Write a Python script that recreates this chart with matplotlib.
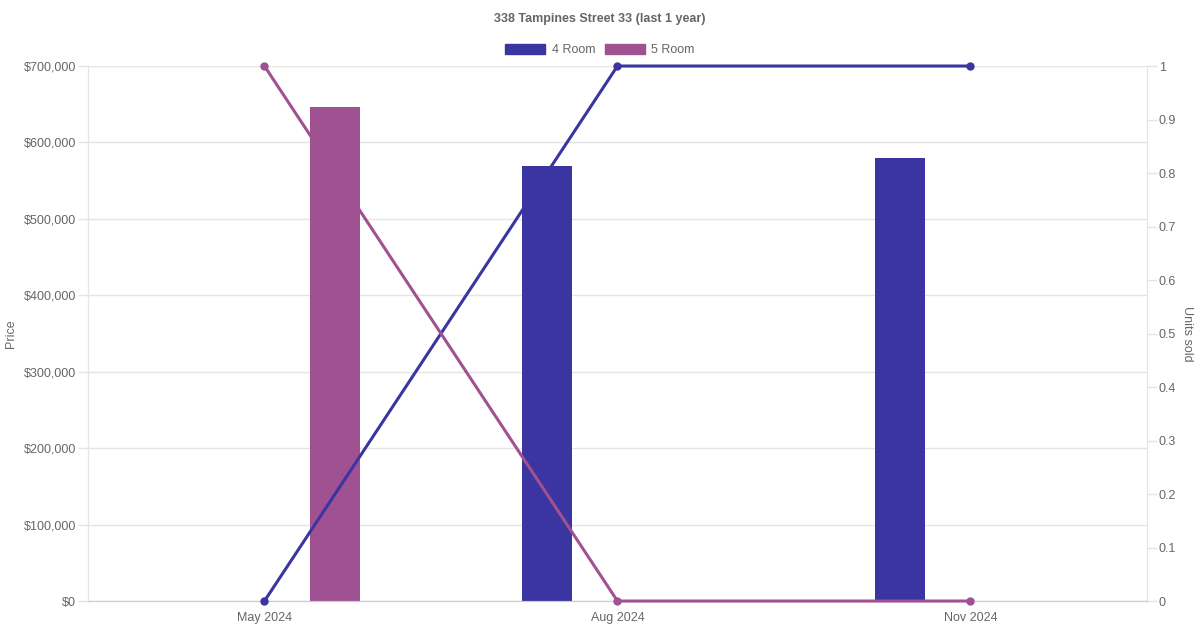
import matplotlib.pyplot as plt
from matplotlib.patches import Patch
from matplotlib.ticker import FuncFormatter

plt.rcParams['font.family'] = ['Liberation Sans', 'DejaVu Sans']

months = ['May 2024', 'Aug 2024', 'Nov 2024']
price_4room = [None, 569000, 580000]
price_5room = [647000, None, None]
units_4room = [0, 1, 1]
units_5room = [1, 0, 0]

c4 = '#3a35a0'
c5 = '#a05192'
grey = '#666666'
grid = '#e5e5e5'

fig = plt.figure(figsize=(12, 6.3), dpi=100)
ax = fig.add_axes([0.0733, 0.046, 0.8825, 0.8492])
ax2 = ax.twinx()

x = list(range(len(months)))
bw = 0.1416
for i, v in enumerate(price_4room):
    if v is not None:
        ax.bar(i - 0.2, v, width=bw, color=c4, zorder=2)
for i, v in enumerate(price_5room):
    if v is not None:
        ax.bar(i + 0.2, v, width=bw, color=c5, zorder=2)

ax2.plot(x, units_4room, color=c4, lw=2.2, marker='o', ms=5, zorder=3, clip_on=False)
ax2.plot(x, units_5room, color=c5, lw=2.2, marker='o', ms=5, zorder=3, clip_on=False)

ax.set_xlim(-0.5, 2.5)
ax.set_ylim(0, 700000)
ax.set_yticks(range(0, 700001, 100000))
ax.yaxis.set_major_formatter(FuncFormatter(lambda v, p: '${:,.0f}'.format(v)))
ax.set_xticks(x)
ax.set_xticklabels(months)
ax.grid(axis='y', color=grid, lw=1)
ax.set_axisbelow(True)

ax2.set_ylim(0, 1)
ax2.set_yticks([i / 10 for i in range(11)])
ax2.yaxis.set_major_formatter(FuncFormatter(lambda v, p: '{:g}'.format(round(v, 1))))

for a in (ax, ax2):
    a.tick_params(colors=grey, labelsize=9, length=7, width=1)
    a.tick_params(axis='y', color=grid, pad=1.5)
    for s in a.spines.values():
        s.set_color(grid)
    a.spines['top'].set_visible(False)
ax.tick_params(axis='x', length=0, pad=8)
ax2.spines['bottom'].set_color('#cccccc')
ax.spines['bottom'].set_color('#cccccc')

ax.set_ylabel('Price', color=grey, fontsize=9, labelpad=5)
ax2.set_ylabel('Units sold', color=grey, fontsize=9, rotation=270, labelpad=12)

fig.suptitle('338 Tampines Street 33 (last 1 year)', y=0.98, fontsize=9,
             fontweight='bold', color=grey)

handles = [Patch(facecolor=c4, edgecolor=c4), Patch(facecolor=c5, edgecolor=c5)]
fig.legend(handles, ['4 Room', '5 Room'], loc='center', bbox_to_anchor=(0.5, 0.921),
           ncol=2, frameon=False, fontsize=9, labelcolor=grey,
           handlelength=3.2, handleheight=0.9, handletextpad=0.5, columnspacing=0.8)

fig.savefig('out.png', dpi=100)
